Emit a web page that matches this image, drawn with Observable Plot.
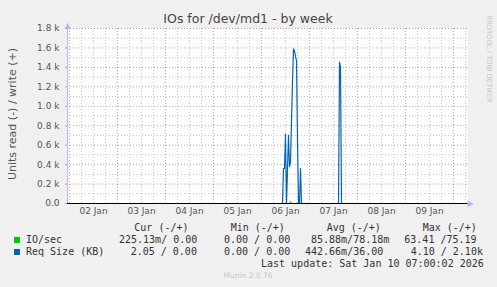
<!DOCTYPE html>
<html><head><meta charset="utf-8">
<script src="https://cdn.jsdelivr.net/npm/d3@7"></script>
<script src="https://cdn.jsdelivr.net/npm/@observablehq/plot@0.6"></script>
<style>
body{margin:0;background:#f0f0f0;}
#wrap{position:relative;width:497px;height:287px;overflow:hidden;font-family:"DejaVu Sans",sans-serif;background:#f0f0f0;}
#chart{position:absolute;left:0;top:0;}
.t{position:absolute;white-space:pre;line-height:1;}
.mono{font-family:"DejaVu Sans Mono",monospace;font-size:10px;color:#333;}
.sq{position:absolute;width:6px;height:6px;}
</style></head>
<body><div id="wrap"><div id="chart"></div></div>
<script>
// ---- data ----
const title = "IOs for /dev/md1 - by week";
const yLabel = "Units read (-) / write (+)";
const xTickDays = ["2026-01-02","2026-01-03","2026-01-04","2026-01-05","2026-01-06","2026-01-07","2026-01-08","2026-01-09"];
const yTicks = [0,200,400,600,800,1000,1200,1400,1600,1800];
const yMinorTicks = [100,300,500,700,900,1100,1300,1500,1700];
const domainStart = "2026-01-01T23:00";
const domainEnd = "2026-01-10T07:00";

const reqTimes = ["2026-01-01T23:00","2026-01-06T10:30","2026-01-06T11:00","2026-01-06T11:30","2026-01-06T12:00","2026-01-06T12:30","2026-01-06T13:00","2026-01-06T13:30","2026-01-06T14:00","2026-01-06T14:30","2026-01-06T15:00","2026-01-06T15:30","2026-01-06T16:00","2026-01-06T16:30","2026-01-06T17:00","2026-01-06T17:30","2026-01-06T18:00","2026-01-06T18:30","2026-01-06T19:00","2026-01-06T19:30","2026-01-06T20:00","2026-01-07T14:30","2026-01-07T15:00","2026-01-07T15:30","2026-01-07T16:00","2026-01-10T07:00"];
const reqValues = [0,0,360,360,710,0,350,700,380,420,850,1250,1590,1570,1510,1470,650,0,0,360,0,0,1455,1400,0,0];

const ioTimes = ["2026-01-01T23:00","2026-01-06T14:00","2026-01-06T14:30","2026-01-06T15:00","2026-01-10T07:00"];
const ioValues = [0,0,20,0,0];

const seriesNames = ["IO/sec","Req Size (KB)"];
const seriesColors = ["#00cc00","#0066b3"];
const legendHeaders = ["Cur (-/+)","Min (-/+)","Avg (-/+)","Max (-/+)"];
const ioStats = ["225.13m/ 0.00","0.00 / 0.00","85.88m/78.18m","63.41 /75.19"];
const reqStats = ["2.05 / 0.00","0.00 / 0.00","442.66m/36.00","4.10 / 2.10k"];
const lastUpdate = "Last update: Sat Jan 10 07:00:02 2026";
const version = "Munin 2.0.76";
const credit = "RRDTOOL / TOBI OETIKER";

// ---- build ----
const parse = d3.utcParse("%Y-%m-%dT%H:%M");
const start = parse(domainStart), end = parse(domainEnd);
const req = reqTimes.map((t,i)=>({t:parse(t), v:reqValues[i]}));
const io = ioTimes.map((t,i)=>({t:parse(t), v:ioValues[i]}));
const labelDays = xTickDays.map(d=>parse(d+"T12:00"));
const midnights = d3.utcDay.range(d3.utcDay.ceil(start), end);
const sixHours = d3.utcHour.every(6).range(start, end).filter(d=>d.getUTCHours()!==0);
const minorCol = "#c4c4c4", majorCol = "#e49494", axisCol = "#b8b8f0";

const chart = Plot.plot({
  width:497, height:220,
  marginLeft:67, marginRight:30, marginTop:28, marginBottom:17,
  style:{background:"transparent", fontFamily:"DejaVu Sans", fontSize:"9px", color:"#555", overflow:"visible"},
  x:{type:"utc", domain:[start,end]},
  y:{domain:[0,1800]},
  marks:[
    Plot.frame({fill:"white", stroke:null}),
    Plot.ruleX(sixHours, {stroke:minorCol, strokeDasharray:"1,2"}),
    Plot.ruleY(yMinorTicks, {stroke:minorCol, strokeDasharray:"1,2"}),
    Plot.ruleX(midnights, {stroke:majorCol, strokeDasharray:"1,2"}),
    Plot.ruleY(yTicks.filter(v=>v>0), {stroke:majorCol, strokeDasharray:"1,2"}),
    Plot.line(io, {x:"t", y:"v", stroke:seriesColors[0], strokeWidth:1}),
    Plot.line(req, {x:"t", y:"v", stroke:seriesColors[1], strokeWidth:1.2}),
    Plot.ruleX([start], {stroke:axisCol, strokeWidth:1}),
    Plot.ruleY([0], {stroke:"#000", strokeWidth:1}),
    Plot.text(["▲"], {frameAnchor:"top-left", textAnchor:"middle", lineAnchor:"bottom", dy:-1, fill:axisCol, fontSize:8}),
    Plot.text(["▶"], {frameAnchor:"bottom-right", textAnchor:"start", lineAnchor:"middle", dx:0, fill:axisCol, fontSize:8}),
    Plot.axisX(labelDays, {tickSize:0, tickPadding:4, tickFormat:d3.utcFormat("%d %b"), label:null, fill:"#555"}),
    Plot.axisY(yTicks, {tickSize:2, tickPadding:6, stroke:majorCol, label:null, fill:"#555",
      tickFormat:d=> d===0 ? "0.0" : (d/1000).toFixed(1)+" k"})
  ]
});
document.getElementById("chart").appendChild(chart);

// ---- peripheral text ----
const wrap = document.getElementById("wrap");
function put(txt, cls, css){const e=document.createElement("div");e.className="t "+(cls||"");e.textContent=txt;Object.assign(e.style,css);wrap.appendChild(e);return e;}
put(title,"",{left:"248px",top:"19px",transform:"translate(-50%,-50%)",fontSize:"12.5px",color:"#444"});
put(yLabel,"",{left:"12px",top:"114px",transform:"translate(-50%,-50%) rotate(-90deg)",fontSize:"11px",color:"#555"});
put(credit,"",{left:"489px",top:"59px",transform:"translate(-50%,-50%) rotate(90deg)",fontSize:"6.8px",color:"#c4c4c4"});
const hdrX=[134.3,230.7,326.7,422.7];
legendHeaders.forEach((h,i)=>put(h,"mono",{left:hdrX[i]+"px",top:"223px"}));
const rowsY=[234.5,246.5];
const statX=[[119,224,311,404.3],[130.7,224,305,410.7]];
[ioStats,reqStats].forEach((stats,r)=>{
  const sq=document.createElement("div");sq.className="sq";Object.assign(sq.style,{left:"14px",top:(rowsY[r]+2)+"px",background:seriesColors[r]});wrap.appendChild(sq);
  put(seriesNames[r],"mono",{left:"26px",top:rowsY[r]+"px"});
  stats.forEach((s,i)=>put(s,"mono",{left:statX[r][i]+"px",top:rowsY[r]+"px"}));
});
put(lastUpdate,"mono",{left:"261px",top:"258.5px"});
put(version,"",{left:"248px",top:"276px",transform:"translate(-50%,-50%)",fontSize:"7.5px",color:"#c8c8c8"});
</script>
</body></html>
